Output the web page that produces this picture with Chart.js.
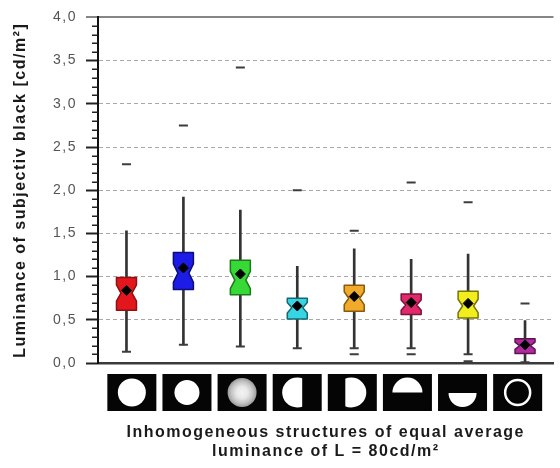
<!DOCTYPE html>
<html>
<head>
<meta charset="utf-8">
<script src="https://cdn.jsdelivr.net/npm/chart.js@4"></script>
<style>
  body { margin: 0; background: #fff; }
  #chart { display: block; }
</style>
</head>
<body>
<canvas id="chart" width="560" height="468"></canvas>
<script>
// Stimulus categories (shown as pictograms under the axis)
const categories = ['Disc', 'Small disc', 'Soft disc', 'Left half', 'Right half', 'Upper half', 'Lower half', 'Ring'];

// Box plot values [cd/m²]
const whiskerLow  = [0.13, 0.21, 0.19, 0.17, 0.17, 0.17, 0.10, 0.01];
const boxLow      = [0.61, 0.85, 0.79, 0.51, 0.60, 0.56, 0.52, 0.11];
const medians     = [0.81, 1.04, 0.96, 0.64, 0.75, 0.67, 0.66, 0.20];
const boxHigh     = [0.99, 1.28, 1.19, 0.75, 0.90, 0.80, 0.83, 0.28];
const whiskerHigh = [1.53, 1.92, 1.77, 1.12, 1.32, 1.20, 1.26, 0.49];
const means       = [0.84, 1.10, 1.03, 0.66, 0.77, 0.70, 0.69, 0.21];
const outlierHigh = [2.30, 2.75, 3.42, 2.00, 1.53, 2.09, 1.86, 0.69];
const outlierLow  = [null, null, null, null, 0.10, 0.10, 0.02, null];

const yTicks = [0, 0.5, 1, 1.5, 2, 2.5, 3, 3.5, 4];

const boxFill   = ['#e3161d', '#1c1ce6', '#36d936', '#38d4e4', '#f0aa2c', '#e0286c', '#f2ee1e', '#b02c9e'];
const boxStroke = ['#8e1010', '#0c0c7a', '#1b7a1b', '#136a74', '#8a5a0a', '#7e1038', '#77740a', '#5e1252'];

// the reference text is set loosely, so widen the tracking a bit
const tracking = {
    id: 'tracking',
    beforeDraw(chart) { chart.ctx.letterSpacing = '1.5px'; }
};

// notched box drawn from the bar element geometry + y scale
const notchBoxes = {
    id: 'notchBoxes',
    afterDatasetDraw(chart, args) {
        if (args.meta.label !== 'box') return;
        const ctx = chart.ctx;
        const y = chart.scales.y;
        args.meta.data.forEach((bar, i) => {
            const half = bar.width / 2;
            const inner = half * 0.55;
            const notch = (boxHigh[i] - boxLow[i]) * 0.25;
            const yTop = y.getPixelForValue(boxHigh[i]);
            const yBot = y.getPixelForValue(boxLow[i]);
            const yMed = y.getPixelForValue(medians[i]);
            const n1 = Math.max(y.getPixelForValue(medians[i] + notch), yTop);
            const n2 = Math.min(y.getPixelForValue(medians[i] - notch), yBot);
            ctx.save();
            ctx.beginPath();
            ctx.moveTo(bar.x - half, yTop);
            ctx.lineTo(bar.x + half, yTop);
            ctx.lineTo(bar.x + half, n1);
            ctx.lineTo(bar.x + inner, yMed);
            ctx.lineTo(bar.x + half, n2);
            ctx.lineTo(bar.x + half, yBot);
            ctx.lineTo(bar.x - half, yBot);
            ctx.lineTo(bar.x - half, n2);
            ctx.lineTo(bar.x - inner, yMed);
            ctx.lineTo(bar.x - half, n1);
            ctx.closePath();
            ctx.fillStyle = boxFill[i];
            ctx.fill();
            ctx.lineWidth = 1.5;
            ctx.lineJoin = 'round';
            ctx.strokeStyle = boxStroke[i];
            ctx.stroke();
            ctx.restore();
        });
    }
};

// minor ticks every 0.1 on the y axis
const minorTicks = {
    id: 'minorTicks',
    afterDraw(chart) {
        const ctx = chart.ctx;
        const y = chart.scales.y;
        const left = chart.chartArea.left;
        ctx.save();
        ctx.strokeStyle = '#222';
        ctx.lineWidth = 1.5;
        for (let k = 1; k < 40; k++) {
            if (k % 5 === 0) continue;
            const py = Math.round(y.getPixelForValue(k / 10)) + 0.25;
            ctx.beginPath();
            ctx.moveTo(left - 6, py);
            ctx.lineTo(left, py);
            ctx.stroke();
        }
        ctx.restore();
    }
};

// stimulus pictograms under the x axis
const pictograms = {
    id: 'pictograms',
    afterDraw(chart) {
        const ctx = chart.ctx;
        const x = chart.scales.x;
        const mid = (chart.chartArea.left + chart.chartArea.right) / 2;
        const w = 49, h = 37, top = 374;
        categories.forEach((c, i) => {
            const cx = mid - 1 + (x.getPixelForValue(i) - mid) * 0.968;
            const cy = top + h / 2;
            ctx.save();
            ctx.fillStyle = '#050505';
            ctx.fillRect(cx - w / 2, top, w, h);
            ctx.fillStyle = '#fff';
            ctx.strokeStyle = '#fff';
            ctx.beginPath();
            if (i === 0) {
                ctx.arc(cx, cy, 14, 0, Math.PI * 2);
                ctx.fill();
            } else if (i === 1) {
                ctx.arc(cx, cy, 12.5, 0, Math.PI * 2);
                ctx.fill();
            } else if (i === 2) {
                const g = ctx.createRadialGradient(cx, cy, 0, cx, cy, 14.5);
                g.addColorStop(0, '#f4f4f4');
                g.addColorStop(0.4, '#e8e8e8');
                g.addColorStop(0.75, '#c2c2c2');
                g.addColorStop(1, '#9a9a9a');
                ctx.fillStyle = g;
                ctx.arc(cx, cy, 14.5, 0, Math.PI * 2);
                ctx.fill();
            } else if (i === 3) {
                ctx.rect(cx - 16, cy - 16, 21, 32);
                ctx.clip();
                ctx.beginPath();
                ctx.arc(cx, cy, 15, 0, Math.PI * 2);
                ctx.fill();
            } else if (i === 4) {
                ctx.rect(cx - 7, cy - 16, 24, 32);
                ctx.clip();
                ctx.beginPath();
                ctx.arc(cx - 1, cy, 15, 0, Math.PI * 2);
                ctx.fill();
            } else if (i === 5) {
                ctx.arc(cx, cy, 15, Math.PI, 0);
                ctx.closePath();
                ctx.fill();
            } else if (i === 6) {
                ctx.arc(cx, cy + 0.5, 14, 0, Math.PI);
                ctx.closePath();
                ctx.fill();
            } else {
                ctx.lineWidth = 2.5;
                ctx.arc(cx, cy, 12.5, 0, Math.PI * 2);
                ctx.stroke();
            }
            ctx.restore();
        });
    }
};

const dashPoint = (label, data, order) => ({
    type: 'line',
    label: label,
    data: data,
    showLine: false,
    pointStyle: 'line',
    pointRadius: 4.5,
    pointBorderWidth: 2,
    pointBorderColor: '#3c3c3c',
    pointHoverRadius: 4.5,
    order: order
});

new Chart(document.getElementById('chart'), {
    type: 'bar',
    data: {
        labels: categories,
        datasets: [
            {
                label: 'whisker',
                data: whiskerLow.map((v, i) => [v, whiskerHigh[i]]),
                backgroundColor: '#333',
                barThickness: 2,
                grouped: false,
                order: 6
            },
            {
                label: 'box',
                data: boxLow.map((v, i) => [v, boxHigh[i]]),
                backgroundColor: 'rgba(0,0,0,0)',
                barThickness: 20,
                grouped: false,
                order: 5
            },
            dashPoint('cap', whiskerLow, 3),
            dashPoint('outlier high', outlierHigh, 2),
            dashPoint('outlier low', outlierLow, 2),
            {
                type: 'line',
                label: 'mean',
                data: means,
                showLine: false,
                pointStyle: 'rectRot',
                pointRadius: 5,
                pointBackgroundColor: '#000',
                pointBorderColor: '#000',
                pointBorderWidth: 1,
                order: 1
            }
        ]
    },
    options: {
        responsive: false,
        animation: false,
        events: [],
        layout: { padding: { top: 16, right: 3, bottom: 0, left: 0 } },
        plugins: {
            legend: { display: false },
            tooltip: { enabled: false }
        },
        scales: {
            x: {
                offset: true,
                grid: { display: false },
                ticks: { display: false },
                border: { display: true, color: '#3a3a3a', width: 2.5 },
                title: {
                    display: true,
                    text: ['Inhomogeneous structures of equal average', 'luminance of L = 80cd/m²'],
                    color: '#1a1a1a',
                    font: { family: 'Liberation Sans, Arial, sans-serif', size: 16, weight: 'bold', lineHeight: 1.2 },
                    padding: { top: 0, bottom: 7 }
                },
                afterFit(scale) { scale.height = 105; }
            },
            y: {
                min: 0,
                max: 4,
                afterBuildTicks(scale) { scale.ticks = yTicks.map(v => ({ value: v })); },
                ticks: {
                    color: '#555',
                    padding: 9,
                    font: { family: 'Liberation Sans, Arial, sans-serif', size: 14 },
                    callback: v => v.toFixed(1).replace('.', ',')
                },
                grid: {
                    color: c => c.tick.value === 0 ? 'rgba(0,0,0,0)' : (c.tick.value === 4 ? '#858585' : '#a8a8a8'),
                    lineWidth: c => c.tick.value === 4 ? 2 : 1,
                    tickColor: c => c.tick.value === 4 ? '#858585' : '#222',
                    tickLength: 12,
                    tickWidth: 2
                },
                border: {
                    display: true,
                    color: '#111',
                    width: 2,
                    dash: c => c.tick && c.tick.value % 4 !== 0 ? [4, 3] : []
                },
                title: {
                    display: true,
                    text: 'Luminance of subjectiv black [cd/m²]',
                    color: '#1a1a1a',
                    font: { family: 'Liberation Sans, Arial, sans-serif', size: 16, weight: 'bold', lineHeight: 1.2 },
                    padding: { top: 11, bottom: 0 }
                },
                afterFit(scale) { scale.width = 98; }
            }
        }
    },
    plugins: [tracking, notchBoxes, minorTicks, pictograms]
});
</script>
</body>
</html>
